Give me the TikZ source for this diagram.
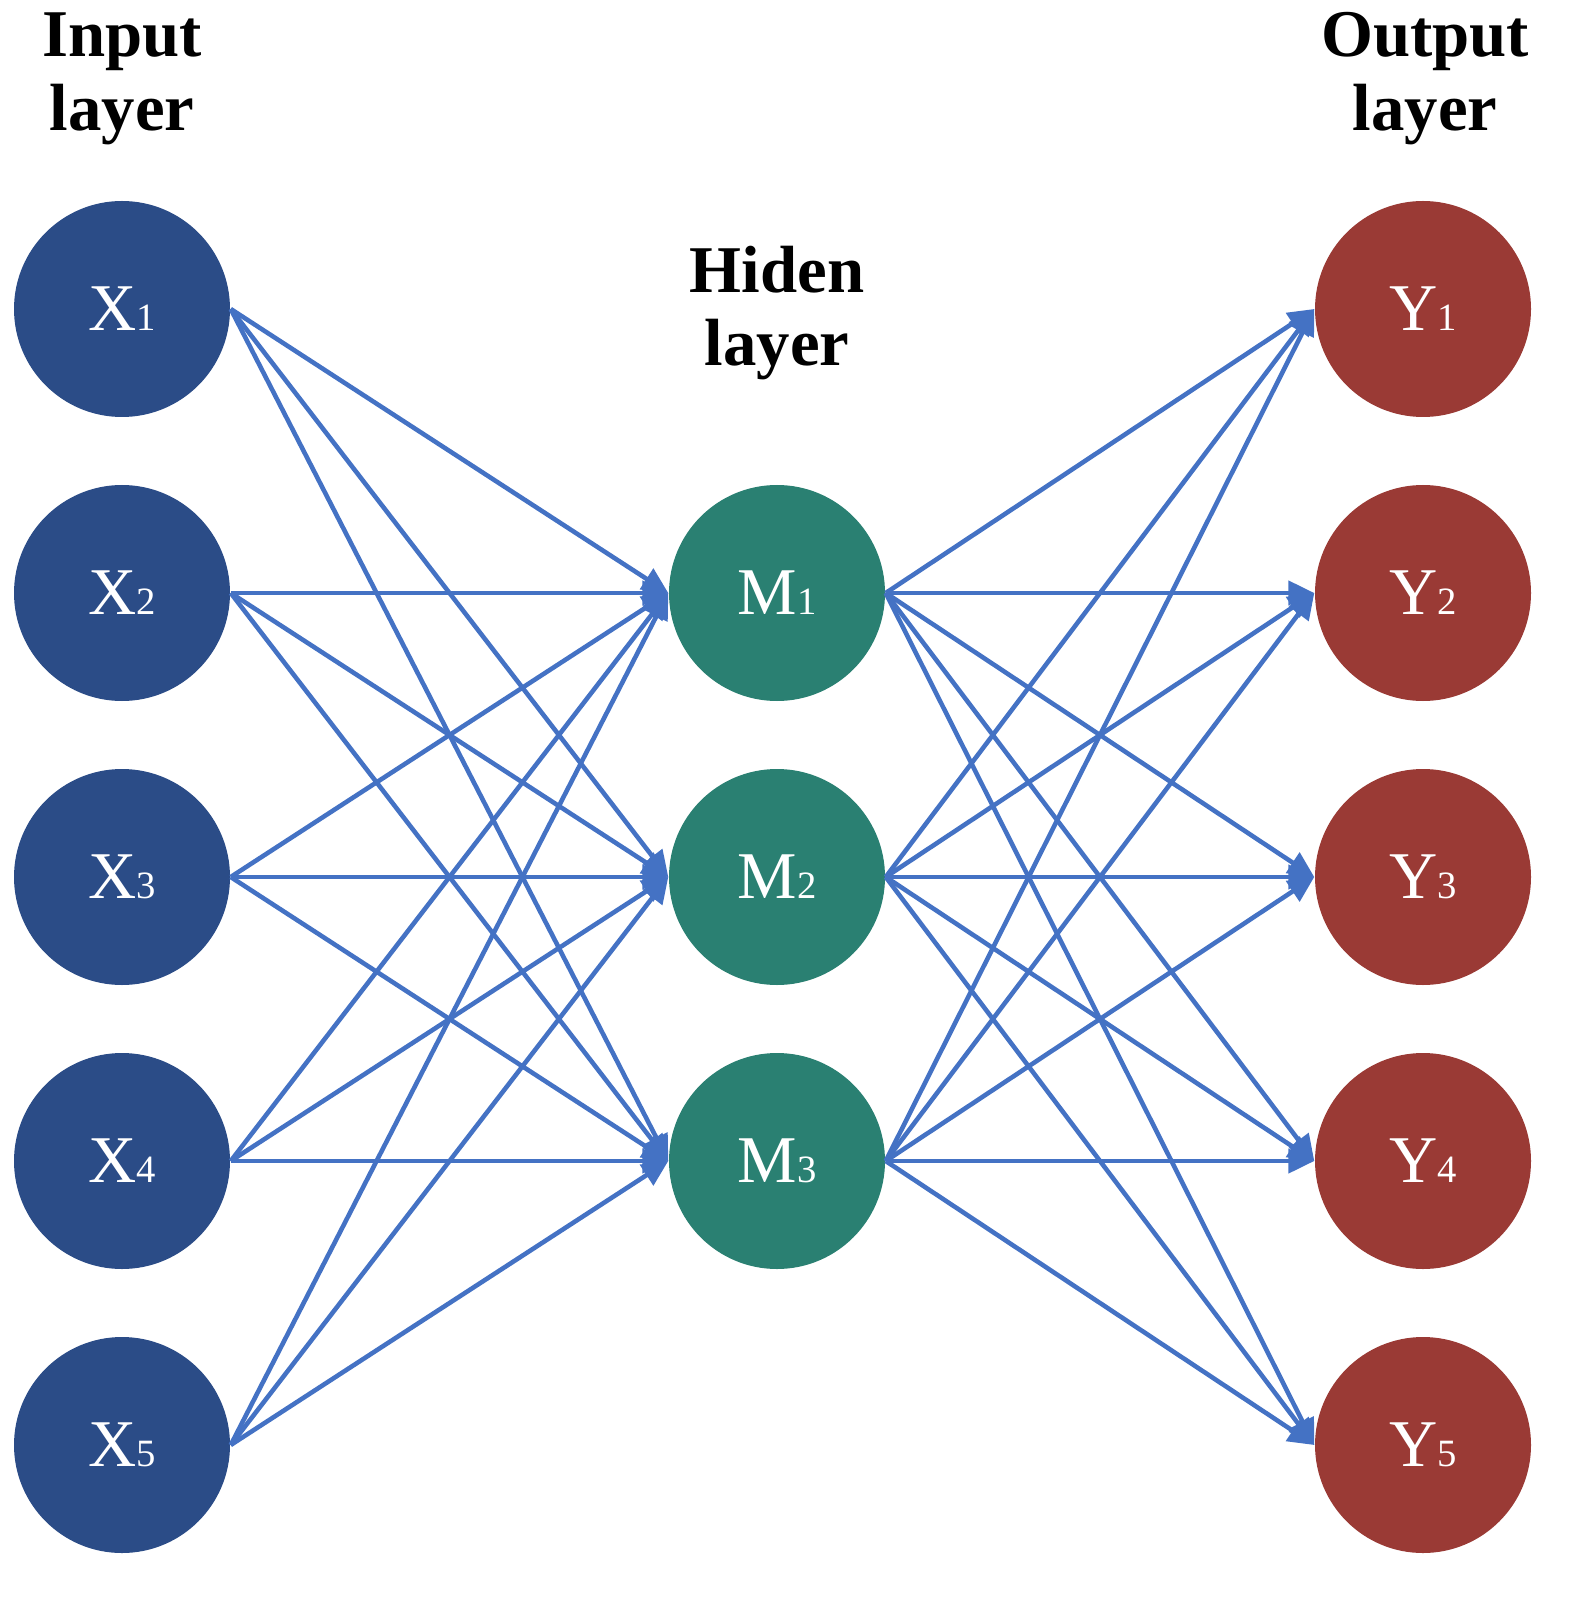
\documentclass[tikz,border=0pt]{standalone}
\usepackage{fontspec}
\setmainfont{Liberation Serif}
\usetikzlibrary{arrows.meta, positioning}
\definecolor{inblue}{HTML}{2B4C87}
\definecolor{hidgreen}{HTML}{2A8072}
\definecolor{outred}{HTML}{9A3A35}
\definecolor{edgeblue}{HTML}{4472C4}
\newcommand{\nlab}[2]{#1{\fontsize{11}{11}\selectfont #2}}

\begin{document}
\begin{tikzpicture}[
    neuron/.style={circle, minimum size=2.16cm, inner sep=0pt, text=white, font=\fontsize{19}{19}\selectfont},
    innode/.style={neuron, fill=inblue},
    hidnode/.style={neuron, fill=hidgreen},
    outnode/.style={neuron, fill=outred},
    title/.style={align=center, inner sep=0pt, font=\bfseries\fontsize{19}{21}\selectfont},
    arrow/.style={-{Triangle[length=0.26cm, width=0.24cm]}, draw=edgeblue, line width=1.3pt}
]
\useasboundingbox (0,0) rectangle (15.79,-16.03);

% layers
\foreach \i in {1,...,5} {
  \node[innode] (x\i) at (1.22,{-3.09-2.84*(\i-1)}) {\nlab{X}{\i}};
  \node[outnode] (y\i) at (14.23,{-3.09-2.84*(\i-1)}) {\nlab{Y}{\i}};
}
\foreach \j in {1,2,3}
  \node[hidnode] (m\j) at (7.77,{-5.93-2.84*(\j-1)}) {\nlab{M}{\j}};

\node[title, anchor=north] (tin) at (1.22,-0.12) {Input\\layer};
\node[title, anchor=north] (thid) at (7.77,-2.45) {Hiden\\layer};
\node[title, anchor=north] (tout) at (14.25,-0.12) {Output\\layer};

% connections
\foreach \i in {1,...,5}
  \foreach \j in {1,2,3} {
    \draw[arrow] (x\i.east) -- (m\j.west);
    \draw[arrow] (m\j.east) -- (y\i.west);
  }

\end{tikzpicture}
\end{document}
